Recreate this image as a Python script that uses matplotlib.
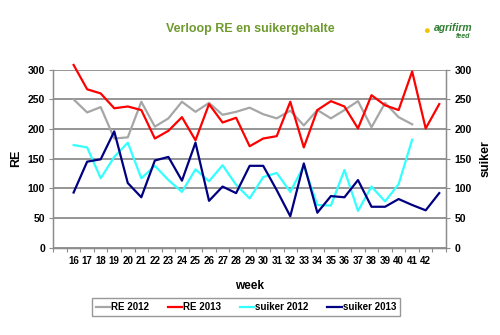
import numpy as np
import matplotlib
matplotlib.use("Agg")
import matplotlib.pyplot as plt

plt.rcParams['font.family'] = ['Liberation Sans', 'DejaVu Sans']

weeks = list(range(16, 44))
re_2012 = [250, 228, 237, 184, 186, 246, 204, 218, 246, 229, 244, 224, 229, 236,
           225, 218, 231, 206, 232, 218, 232, 247, 203, 244, 220, 208]
re_2013 = [308, 267, 260, 235, 238, 232, 184, 197, 220, 181, 242, 211, 219, 171,
           184, 188, 246, 169, 232, 247, 238, 201, 257, 240, 232, 297, 201, 242]
suiker_2012 = [173, 169, 117, 153, 177, 117, 138, 114, 94, 132, 112, 139, 106, 83,
               119, 126, 94, 138, 72, 71, 131, 62, 103, 78, 107, 182]
suiker_2013 = [93, 145, 149, 196, 109, 85, 147, 153, 113, 177, 79, 103, 92, 138,
               138, 97, 53, 142, 59, 87, 85, 114, 69, 69, 82, 72, 63, 92]
tick_weeks = list(range(16, 43))

fig = plt.figure(figsize=(5.0, 3.35), dpi=100)
ax = fig.add_axes([53.3/500, 1-247.7/335, (446-53.3)/500, (247.7-69.7)/335])

grid_c = '#8c8c8c'
ax.plot(weeks[:len(re_2012)], re_2012, color='#a6a6a6', lw=1.6, label='RE 2012', zorder=3, clip_on=False)
ax.plot(weeks, re_2013, color='#ff0000', lw=1.6, label='RE 2013', zorder=3, clip_on=False)
ax.plot(weeks[:len(suiker_2012)], suiker_2012, color='#33ffff', lw=1.6, label='suiker 2012', zorder=3, clip_on=False)
ax.plot(weeks, suiker_2013, color='#000080', lw=1.6, label='suiker 2013', zorder=3, clip_on=False)

ax.set_xlim(14.5, 43.5)
ax.set_ylim(0, 300)
ax.set_yticks(np.arange(0, 301, 50))
ax.yaxis.grid(True, color=grid_c, lw=1.3)
ax.set_axisbelow(True)

ax.set_xticks(np.arange(14.5, 44, 1))
ax.set_xticklabels([])
ax.set_xticks(tick_weeks, minor=True)
ax.set_xticklabels([str(w) for w in tick_weeks], minor=True, fontsize=7, fontweight='bold')
ax.tick_params(axis='x', which='minor', length=0, pad=6)
ax.tick_params(axis='x', which='major', length=3, color=grid_c, direction='out')
ax.tick_params(axis='y', length=3, color=grid_c, labelsize=7.5, pad=3)
for lbl in ax.get_yticklabels():
    lbl.set_fontweight('bold')

ax.spines['top'].set_visible(False)
for s in ['left', 'bottom', 'right']:
    ax.spines[s].set_color(grid_c)
    ax.spines[s].set_linewidth(1.0)

ax2 = ax.twinx()
ax2.set_ylim(0, 300)
ax2.set_yticks(np.arange(0, 301, 50))
ax2.tick_params(axis='y', length=3, color=grid_c, labelsize=7.5, pad=3)
for lbl in ax2.get_yticklabels():
    lbl.set_fontweight('bold')
ax2.spines['top'].set_visible(False)
for s in ['left', 'bottom', 'right']:
    ax2.spines[s].set_color(grid_c)

ax.set_ylabel('RE', fontsize=9, fontweight='bold', labelpad=4)
ax2.set_ylabel('suiker', fontsize=9, fontweight='bold', labelpad=6)
ax.set_xlabel('week', fontsize=8.5, fontweight='bold', labelpad=10)

fig.text(0.5, 1-29/335, 'Verloop RE en suikergehalte', ha='center', va='center',
         fontsize=9, fontweight='bold', color='#6f9a2e')
fig.text(434/500, 1-28/335, 'agrifirm', ha='left', va='center', fontsize=7.5,
         fontstyle='italic', fontweight='bold', color='#2e7d32')
fig.text(470/500, 1-36/335, 'feed', ha='right', va='center', fontsize=5,
         fontstyle='italic', fontweight='bold', color='#2e7d32')
fig.text(426/500, 1-31/335, '\u25cf', ha='center', va='center', fontsize=8, color='#f2c200')

leg = fig.legend(loc='center', bbox_to_anchor=(246/500, 1-307/335), ncol=4,
                 fontsize=7, frameon=True, fancybox=False, handlelength=1.5,
                 handletextpad=0.1, columnspacing=1.9, borderpad=0.4)
leg.get_frame().set_edgecolor('#7f7f7f')
leg.get_frame().set_linewidth(1.0)
for t in leg.get_texts():
    t.set_fontweight('bold')

fig.savefig('out.png', dpi=100)
